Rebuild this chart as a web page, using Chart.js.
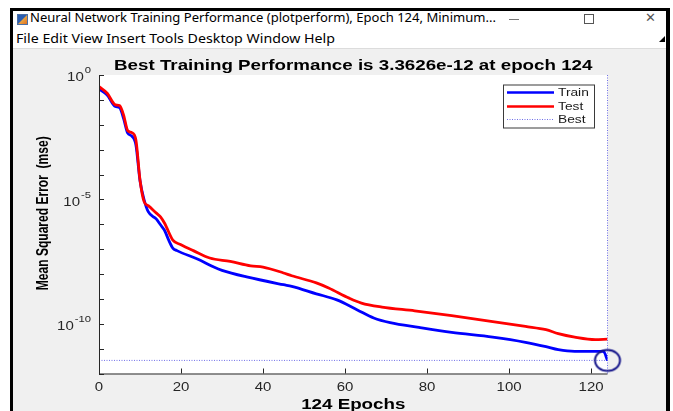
<!DOCTYPE html>
<html>
<head>
<meta charset="utf-8">
<script src="https://cdn.jsdelivr.net/npm/chart.js@4/dist/chart.umd.min.js"></script>
<style>
  html, body { margin: 0; padding: 0; width: 673px; height: 411px; overflow: hidden; background: #fff; }
  body { position: relative; font-family: "Noto Sans", "Open Sans", sans-serif; }
  #frame { position: absolute; left: 10px; top: 8px; width: 660px; height: 420px; box-sizing: border-box;
           border-left: 3px solid #000; border-top: 3px solid #000; border-right: 4px solid #000; }
  #figure { position: absolute; left: 13px; top: 49px; width: 653px; height: 362px; background: #f0f0f0; }
  #sep { position: absolute; left: 13px; top: 48px; width: 653px; height: 1px; background: #dcdcdc; }
  .fit { position: absolute; white-space: nowrap; transform-origin: 0 50%; line-height: 1; color: #000; }
  #wintitle { left: 30px; top: 12px; font-size: 12px; }
  #menu { left: 16px; top: 33px; font-size: 12px; }
  #icon { position: absolute; left: 17px; top: 14px; width: 9px; height: 9px; background: linear-gradient(135deg, #2a5db0 0%, #2a5db0 45%, #e8a040 55%, #e07020 100%); border: 1px solid #4a6fa5; }
  #minbtn { position: absolute; left: 509px; top: 19px; width: 10px; height: 1px; background: #777; }
  #maxbtn { position: absolute; left: 584px; top: 14px; width: 8px; height: 8px; border: 1px solid #555; }
  #closebtn { position: absolute; left: 645px; top: 10px; font-size: 13px; color: #555; font-family: "DejaVu Sans", sans-serif; }
  #dock { position: absolute; left: 659px; top: 36px; width: 0; height: 0; border-left: 6px solid transparent; border-bottom: 6px solid #000; }
  #plot { position: absolute; left: 0; top: 0; }
</style>
</head>
<body>
<div id="frame"></div>
<div id="sep"></div>
<div id="figure"></div>
<div id="icon"></div>
<span class="fit" id="wintitle" data-w="466">Neural Network Training Performance (plotperform), Epoch 124, Minimum...</span>
<div id="minbtn"></div>
<div id="maxbtn"></div>
<div id="closebtn">✕</div>
<span class="fit" id="menu" data-w="319">File Edit View Insert Tools Desktop Window Help</span>
<div id="dock"></div>
<canvas id="plot" width="673" height="411"></canvas>
<script>
// ---- training record (epoch, mean squared error) ----
const trainEpochs = [0, 2, 4, 5, 6, 7, 8, 9, 10, 11, 12, 14, 15, 16, 17, 18, 19, 24, 28, 30, 36, 45, 47, 53, 58, 63, 67, 71, 78, 86, 96, 104, 109, 112, 116, 123, 124];
const trainMse = [2.75e-1, 1.58e-1, 5.4e-2, 4.9e-2, 1.78e-2, 4.6e-3, 3.5e-3, 1.55e-3, 5.6e-5, 9.5e-6, 3.2e-6, 1.6e-6, 9.5e-7, 5.6e-7, 2.3e-7, 1.1e-7, 8.7e-8, 4.0e-8, 1.9e-8, 1.4e-8, 7.6e-9, 3.7e-9, 3.2e-9, 1.6e-9, 9.1e-10, 3.6e-10, 1.7e-10, 1.1e-10, 7.1e-11, 4.5e-11, 2.9e-11, 1.8e-11, 1.2e-11, 9.1e-12, 7.8e-12, 7.8e-12, 3.3626e-12];

const testEpochs = [0, 2, 4, 5, 6, 7, 8, 9, 10, 11, 12, 14, 15, 16, 18, 20, 23, 27, 32, 37, 40, 45, 47, 53, 56, 61, 64, 69, 77, 86, 96, 104, 109, 112, 116, 121, 124];
const testMse = [3.4e-1, 1.84e-1, 6.3e-2, 5.9e-2, 2.45e-2, 5.8e-3, 4.8e-3, 2.45e-3, 6.0e-5, 8.1e-6, 5.6e-6, 2.8e-6, 2.0e-6, 1.1e-6, 2.3e-7, 1.5e-7, 8.7e-8, 4.4e-8, 3.2e-8, 2.1e-8, 1.9e-8, 1.1e-8, 8.5e-9, 4.4e-9, 2.75e-9, 1.07e-9, 6.8e-10, 4.7e-10, 3.3e-10, 2.1e-10, 1.23e-10, 7.8e-11, 5.75e-11, 4.0e-11, 2.9e-11, 2.3e-11, 2.4e-11];

const bestEpoch = 124;
const bestPerf = 3.3626e-12;

// ---- axes ----
const epochRange = [0, 124];
const mseRange = [1e-12, 1];
const epochTicks = [0, 20, 40, 60, 80, 100, 120];
const decadeTicks = [0, -1, -2, -3, -4, -5, -6, -7, -8, -9, -10, -11, -12];
const labelledExponents = [0, -5, -10];

const seriesNames = ['Train', 'Test', 'Best'];
const seriesColors = ['#0000ff', '#ff0000', '#6f6fe8'];

// stretch every caption horizontally like the figure window does
const SX = 1.25;

document.querySelectorAll('.fit').forEach(el => {
  const w = el.getBoundingClientRect().width;
  el.style.transform = 'scaleX(' + (parseFloat(el.dataset.w) / w) + ')';
});

function pairs(xs, ys) { return xs.map((x, i) => ({ x: x, y: ys[i] })); }

// ring marker around the best epoch
const ring = document.createElement('canvas');
ring.width = 30; ring.height = 26;
(function () {
  const c = ring.getContext('2d');
  c.strokeStyle = '#15158a'; c.lineWidth = 2;
  c.beginPath(); c.ellipse(15, 13, 12.5, 10.5, 0, 0, Math.PI * 2); c.stroke();
})();

function drawText(ctx, s, x, y, font, align, color, sx) {
  sx = sx || SX;
  ctx.save();
  ctx.font = font;
  ctx.fillStyle = color || '#000';
  ctx.textBaseline = 'middle';
  ctx.textAlign = 'left';
  const w = ctx.measureText(s).width * sx;
  const x0 = align === 'center' ? x - w / 2 : align === 'right' ? x - w : x;
  ctx.translate(x0, y);
  ctx.scale(sx, 1);
  ctx.fillText(s, 0, 0);
  ctx.restore();
  return w;
}

const FONT = '"Liberation Sans", Arial, sans-serif';

const axesPlugin = {
  id: 'matlabAxes',
  beforeDatasetsDraw(chart) {
    const { ctx, chartArea: a } = chart;
    ctx.save();
    ctx.fillStyle = '#ffffff';
    ctx.fillRect(a.left, a.top, a.right - a.left, a.bottom - a.top);
    ctx.restore();
  },
  afterDraw(chart) {
    const { ctx, chartArea: a } = chart;
    const xs = chart.scales.x, ys = chart.scales.y;
    const axisColor = '#262626';

    ctx.save();
    ctx.strokeStyle = axisColor;
    ctx.lineWidth = 1;
    ctx.beginPath();
    ctx.moveTo(a.left + 0.5, a.top);
    ctx.lineTo(a.left + 0.5, a.bottom + 0.5);
    ctx.lineTo(a.right, a.bottom + 0.5);
    ctx.stroke();

    // inward tick marks
    ctx.beginPath();
    decadeTicks.forEach(e => {
      const py = Math.round(ys.getPixelForValue(Math.pow(10, e))) + 0.5;
      ctx.moveTo(a.left, py); ctx.lineTo(a.left + 5, py);
    });
    epochTicks.forEach(t => {
      const px = Math.round(xs.getPixelForValue(t)) + 0.5;
      ctx.moveTo(px, a.bottom); ctx.lineTo(px, a.bottom - 5);
    });
    ctx.stroke();
    ctx.restore();

    // tick labels
    epochTicks.forEach(t => {
      drawText(ctx, String(t), xs.getPixelForValue(t), a.bottom + 14, '12px ' + FONT, 'center', axisColor);
    });
    labelledExponents.forEach(e => {
      const py = ys.getPixelForValue(Math.pow(10, e));
      ctx.save();
      ctx.font = '12px ' + FONT;
      const wBase = ctx.measureText('10').width * SX;
      ctx.font = '9px ' + FONT;
      const wExp = ctx.measureText(String(e)).width * SX;
      ctx.restore();
      const right = a.left - 8;
      const start = right - wBase - wExp - 1;
      drawText(ctx, '10', start, py + 3, '12px ' + FONT, 'left', axisColor);
      drawText(ctx, String(e), start + wBase + 1, py - 4, '9px ' + FONT, 'left', axisColor);
    });

    // titles
    const cx = (a.left + a.right) / 2;
    drawText(ctx, 'Best Training Performance is ' + bestPerf.toExponential(4) + ' at epoch ' + bestEpoch,
      cx, a.top - 9, 'bold 15px ' + FONT, 'center', '#000');
    drawText(ctx, bestEpoch + ' Epochs', cx, a.bottom + 31, 'bold 15px ' + FONT, 'center', '#000');

    ctx.save();
    ctx.translate(43, (a.top + a.bottom) / 2 - 11);
    ctx.scale(1.2, 1);
    ctx.rotate(-Math.PI / 2);
    ctx.font = 'bold 14px ' + FONT;
    ctx.fillStyle = '#000';
    ctx.textAlign = 'center';
    ctx.textBaseline = 'middle';
    ctx.fillText('Mean Squared Error  (mse)', 0, 0, 154);
    ctx.restore();

    // legend
    const lx = 503, ly = 84.5, lw = 91, lh = 43;
    ctx.save();
    ctx.fillStyle = '#fff';
    ctx.fillRect(lx, ly, lw, lh);
    ctx.strokeStyle = '#3a3a3a';
    ctx.lineWidth = 1;
    ctx.strokeRect(lx + 0.5, ly + 0.5, lw, lh);
    const rows = [92.5, 106.5, 119.5];
    seriesNames.forEach((name, i) => {
      ctx.beginPath();
      ctx.strokeStyle = seriesColors[i];
      if (i === 2) { ctx.lineWidth = 1; ctx.setLineDash([1, 1.5]); }
      else { ctx.lineWidth = 2.6; ctx.setLineDash([]); }
      ctx.moveTo(507, rows[i]); ctx.lineTo(554, rows[i]);
      ctx.stroke();
      drawText(ctx, name, 558, rows[i], '11px ' + FONT, 'left', '#1a1a1a');
    });
    ctx.restore();
  }
};

new Chart(document.getElementById('plot'), {
  type: 'line',
  data: {
    datasets: [
      {
        label: seriesNames[0], data: pairs(trainEpochs, trainMse),
        borderColor: seriesColors[0], borderWidth: 2.8, pointRadius: 0,
        cubicInterpolationMode: 'monotone', order: 2
      },
      {
        label: seriesNames[1], data: pairs(testEpochs, testMse),
        borderColor: seriesColors[1], borderWidth: 2.8, pointRadius: 0,
        cubicInterpolationMode: 'monotone', order: 1
      },
      {
        label: seriesNames[2], data: [{ x: epochRange[0], y: bestPerf }, { x: bestEpoch, y: bestPerf }],
        borderColor: seriesColors[2], borderWidth: 1, borderDash: [1, 1.5], pointRadius: 0, order: 3
      },
      {
        label: 'best epoch', data: [{ x: bestEpoch, y: mseRange[0] }, { x: bestEpoch, y: mseRange[1] }],
        borderColor: seriesColors[2], borderWidth: 1, borderDash: [1, 1.5], pointRadius: 0, order: 3, clip: false
      },
      {
        label: 'best point', data: [{ x: bestEpoch, y: bestPerf }],
        showLine: false, pointStyle: ring, pointRadius: 12, order: 0, clip: false
      }
    ]
  },
  options: {
    responsive: false,
    animation: false,
    devicePixelRatio: 1,
    layout: { padding: { left: 99, top: 75, right: 65.5, bottom: 37.5 } },
    plugins: { legend: { display: false }, title: { display: false }, tooltip: { enabled: false } },
    scales: {
      x: { type: 'linear', display: false, min: epochRange[0], max: epochRange[1] },
      y: { type: 'logarithmic', display: false, min: mseRange[0], max: mseRange[1] }
    }
  },
  plugins: [axesPlugin]
});
</script>
</body>
</html>
